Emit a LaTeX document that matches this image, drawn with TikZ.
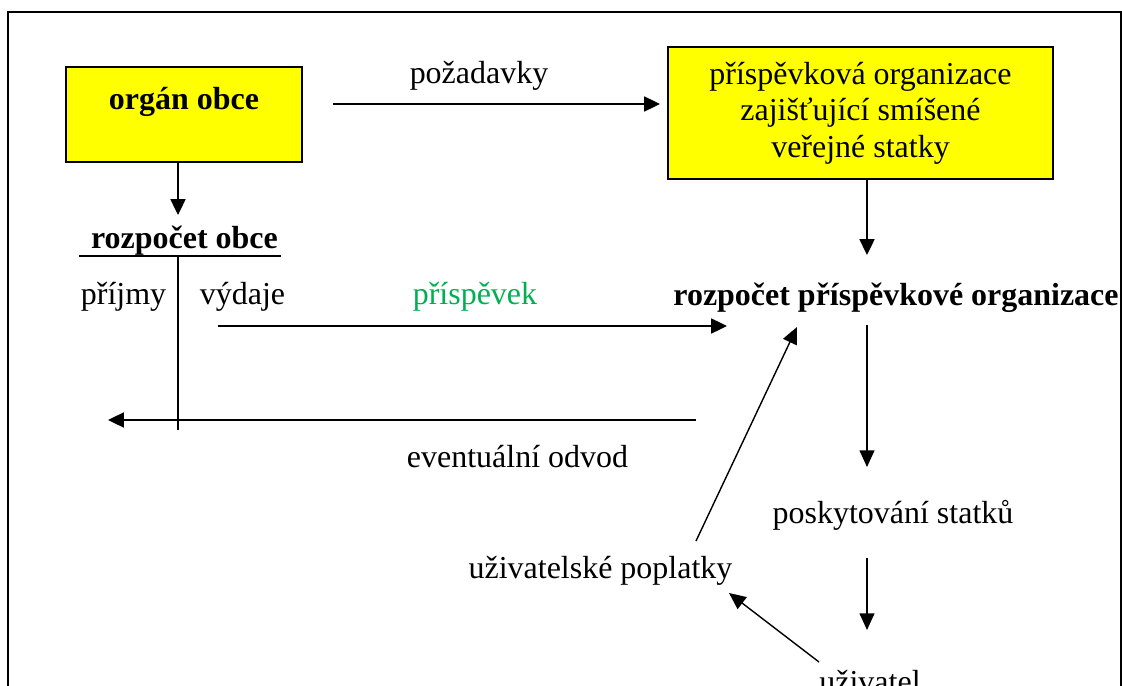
\documentclass[tikz,border=0pt]{standalone}
\usepackage{fontspec}
\setmainfont{Liberation Serif}
\usetikzlibrary{arrows.meta}
\definecolor{prgreen}{RGB}{0,176,80}
\definecolor{boxyellow}{RGB}{255,255,0}
\tikzset{
  arr/.style={-{Triangle[length=9pt,width=8.5pt]},line width=1.1pt},
  arrthin/.style={-{Triangle[length=9.5pt,width=8.5pt]},line width=0.8pt},
  tline/.style={line width=1.1pt},
  frame/.style={line width=1.2pt},
  ybox/.style={draw,line width=1.1pt,fill=boxyellow,align=center,inner sep=0pt},
  lbl/.style={anchor=base,inner sep=0pt},
}

\begin{document}
\begin{tikzpicture}[x=0.02cm,y=-0.02cm,font=\fontsize{18.2}{20.7}\selectfont]
  \useasboundingbox (0,0) rectangle (1122,686);
  % outer frame, cut off by the page at the bottom
  \draw[frame] (8,720) |- (1121,12) -- (1121,720);
  % the two yellow boxes
  \node[ybox,text height=0.84cm,text depth=1.06cm,minimum width=4.72cm] (organ) at (184,114.5)
    {\textbf{orgán obce}};
  \node[ybox,minimum width=7.7cm,minimum height=2.64cm] (prisp) at (860.5,113)
    {příspěvková organizace\\zajišťující smíšené\\veřejné statky};
  % texts
  \node[lbl] (pozad) at (479,84) {požadavky};
  \node[lbl] (rozobce) at (184.5,248) {\textbf{rozpočet obce}};
  \node[lbl] (prijmy) at (123.5,304) {příjmy};
  \node[lbl] (vydaje) at (242.5,304) {výdaje};
  \node[lbl,text=prgreen] (prispevek) at (475,304) {příspěvek};
  \node[lbl] (rozpo) at (896,305) {\textbf{rozpočet příspěvkové organizace}};
  \node[lbl] (odvod) at (517.5,467) {eventuální odvod};
  \node[lbl] (posk) at (893,523) {poskytování statků};
  \node[lbl] (popl) at (600.5,578) {uživatelské poplatky};
  \node[lbl] (uziv) at (870,692) {uživatel};
  % free ends of the connectors
  \coordinate (tcolT) at (178,256);
  \coordinate (tcolB) at (178,430);
  \coordinate (ulL) at (79,256);
  \coordinate (ulR) at (281,256);
  \coordinate (rozobceIn) at (178,215);
  \coordinate (pozS) at (333,104);
  \coordinate (pozE) at (660,104);
  \coordinate (rpIn) at (867,255);
  \coordinate (vydS) at (218,326);
  \coordinate (vydE) at (727,326);
  \coordinate (odvS) at (696,420);
  \coordinate (odvE) at (108,420);
  \coordinate (rpOut) at (867,325);
  \coordinate (poskIn) at (867,467);
  \coordinate (poskOut) at (867,558);
  \coordinate (uzivIn) at (867,630);
  \coordinate (uzivOut) at (819,662);
  \coordinate (poplIn) at (729,593);
  \coordinate (poplOut) at (696,541);
  \coordinate (rpBack) at (797,327);
  % T-account of the municipal budget
  \draw[tline] (ulL) -- (ulR);
  \draw[tline] (tcolT) -- (tcolB);
  % flows
  \draw[arr] (organ.south -| tcolT) -- (rozobceIn);
  \draw[arr] (pozS) -- (pozE);
  \draw[arr] (prisp.south -| rpIn) -- (rpIn);
  \draw[arr] (vydS) -- (vydE);
  \draw[arr] (odvS) -- (odvE);
  \draw[arrthin] (rpOut) -- (poskIn);
  \draw[arrthin] (poskOut) -- (uzivIn);
  \draw[arrthin] (uzivOut) -- (poplIn);
  \draw[arrthin] (poplOut) -- (rpBack);
\end{tikzpicture}
\end{document}
